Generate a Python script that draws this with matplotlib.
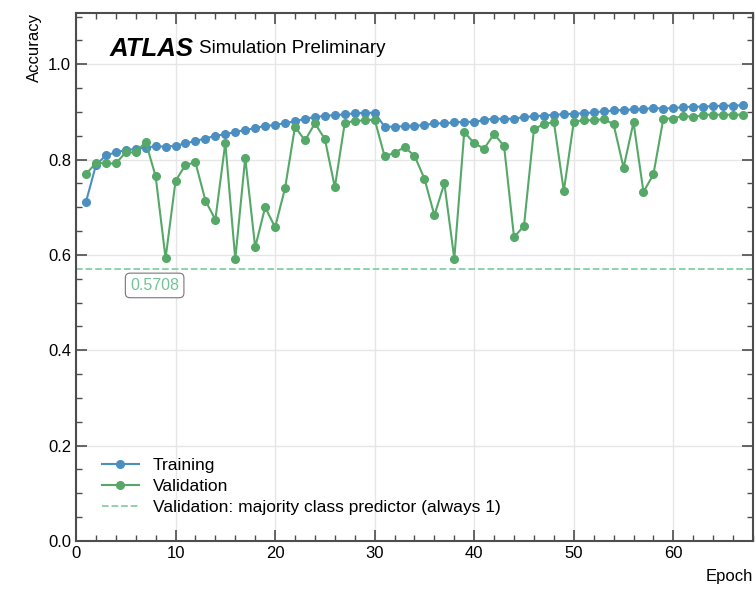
import matplotlib
matplotlib.use("Agg")
import matplotlib.pyplot as plt
from matplotlib.ticker import MultipleLocator

plt.rcParams['font.family'] = ['Liberation Sans', 'DejaVu Sans']

epochs = list(range(1, 68))

train_acc = [
    0.711, 0.788, 0.809, 0.815, 0.820, 0.822, 0.825, 0.828, 0.827, 0.829,
    0.834, 0.839, 0.844, 0.850, 0.853, 0.858, 0.862, 0.866, 0.871, 0.872,
    0.877, 0.880, 0.886, 0.889, 0.892, 0.893, 0.895, 0.897, 0.898, 0.898,
    0.869, 0.869, 0.870, 0.871, 0.872, 0.876, 0.876, 0.878, 0.879, 0.879,
    0.883, 0.886, 0.885, 0.886, 0.889, 0.891, 0.892, 0.894, 0.895, 0.896,
    0.897, 0.899, 0.901, 0.903, 0.904, 0.905, 0.906, 0.908, 0.907, 0.908,
    0.910, 0.911, 0.911, 0.912, 0.913, 0.913, 0.914,
]

val_acc = [
    0.769, 0.793, 0.792, 0.792, 0.815, 0.815, 0.837, 0.765, 0.593, 0.755,
    0.789, 0.794, 0.714, 0.674, 0.835, 0.591, 0.804, 0.616, 0.700, 0.658,
    0.740, 0.869, 0.840, 0.876, 0.843, 0.742, 0.877, 0.881, 0.882, 0.884,
    0.807, 0.814, 0.826, 0.808, 0.760, 0.683, 0.750, 0.592, 0.858, 0.834,
    0.823, 0.854, 0.828, 0.637, 0.661, 0.864, 0.874, 0.879, 0.734, 0.879,
    0.883, 0.882, 0.885, 0.874, 0.783, 0.878, 0.732, 0.769, 0.886, 0.886,
    0.892, 0.889, 0.894, 0.894, 0.894, 0.894, 0.894,
]

majority_baseline = 0.5708

blue = '#4b8fc1'
green = '#55a868'
light_green = '#86cfa5'
label_green = '#72c495'
spine_col = '#4d4d4d'

fig = plt.figure(figsize=(7.56, 5.91), dpi=100)
ax = fig.add_axes([0.1005, 0.0846, 0.8955, 0.8939])

ax.plot(epochs, train_acc, '-o', color=blue, lw=1.5, ms=5.5, label='Training', zorder=3)
ax.plot(epochs, val_acc, '-o', color=green, lw=1.5, ms=5.5, label='Validation', zorder=3)
ax.axhline(majority_baseline, color=light_green, ls='--', lw=1.3,
           label='Validation: majority class predictor (always 1)', zorder=2)

ax.text(7.9, 0.536, f'{majority_baseline:.4f}', color=label_green, fontsize=11.5,
        ha='center', va='center',
        bbox=dict(boxstyle='round,pad=0.3', fc='white', ec='#777777', lw=0.8))

ax.set_xlim(0, 68)
ax.set_ylim(0, 1.108)

ax.xaxis.set_major_locator(MultipleLocator(10))
ax.xaxis.set_minor_locator(MultipleLocator(2))
ax.yaxis.set_major_locator(MultipleLocator(0.2))
ax.yaxis.set_minor_locator(MultipleLocator(0.05))

ax.tick_params(which='both', direction='in', top=True, right=True,
               color=spine_col, labelsize=12)
ax.tick_params(which='major', length=8, width=1.2)
ax.tick_params(which='minor', length=4, width=1.0)
for s in ax.spines.values():
    s.set_color(spine_col)
    s.set_linewidth(1.5)

ax.grid(True, which='major', color='#e6e6e6', lw=1.0, zorder=0)
ax.set_axisbelow(True)

ax.set_xlabel('Epoch', fontsize=12, loc='right', labelpad=6)
ax.set_ylabel('Accuracy', fontsize=12, loc='top')

ax.text(0.05, 0.932, 'ATLAS', transform=ax.transAxes, fontsize=18.5,
        fontweight='bold', fontstyle='italic', va='center', ha='left')
ax.text(0.182, 0.932, 'Simulation Preliminary', transform=ax.transAxes,
        fontsize=13.5, va='center', ha='left')

ax.legend(loc='lower left', bbox_to_anchor=(0.0156, 0.02), frameon=False,
          fontsize=12.5, handlelength=2.1, numpoints=1, labelspacing=0.33,
          handletextpad=0.8)

fig.savefig('out.png', dpi=100)
